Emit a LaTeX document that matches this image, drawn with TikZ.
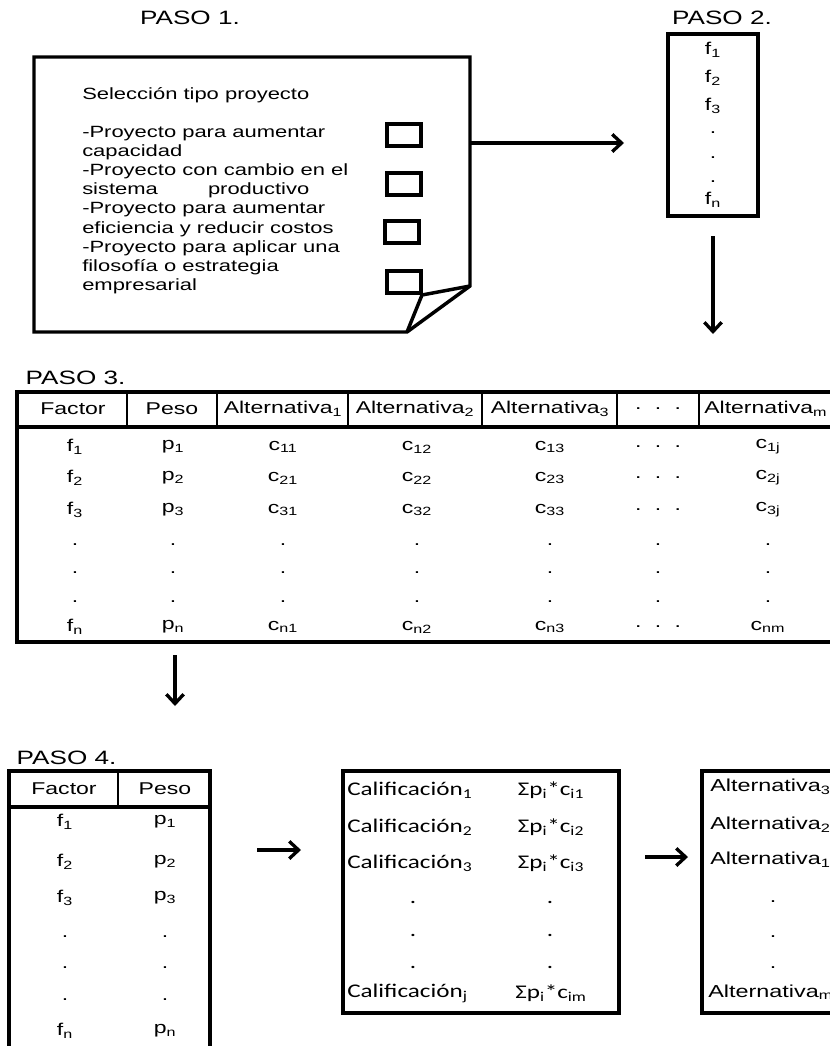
\documentclass[tikz,border=0pt]{standalone}
\usepackage{fontspec}
\setmainfont{Liberation Sans}[FakeStretch=1.35]
\newfontfamily\califont{Carlito}[FakeStretch=1.3]
\usetikzlibrary{arrows.meta, positioning}
\newcommand{\idx}[1]{\textsubscript{#1}}
\newcommand{\tdots}{.\hspace{10pt}.\hspace{10pt}.}

\begin{document}
\begin{tikzpicture}[
    x=0.75pt, y=-0.75pt,
    paso/.style={font=\fontsize{14.5}{17}\selectfont},
    txt/.style={font=\fontsize{12.2}{14.4}\selectfont, align=left, inner sep=0pt},
    cell/.style={font=\fontsize{12.8}{15}\selectfont, inner sep=0pt},
    calif/.style={font=\califont\fontsize{14.5}{17}\selectfont, inner sep=0pt},
    alt/.style={font=\fontsize{13}{16}\selectfont, inner sep=0pt},
    border/.style={draw, line width=2.9pt},
    sep/.style={line width=1.8pt},
    checkbox/.style={draw, line width=2.7pt, minimum width=25.5pt, minimum height=16.5pt, inner sep=0pt},
    arrow/.style={-{Straight Barb[length=7pt, width=13pt]}, line width=2.5pt},
]
\useasboundingbox (0,0) rectangle (830,1046);
\clip (0,0) rectangle (830,1046);

% Paso 1
\node[paso] (paso1) at (190,18) {PASO 1.};
\draw[line width=2.6pt, line join=miter] (34,57) -- (470,57) -- (470,286) -- (407,332) -- (34,332) -- cycle;
\draw[line width=2.6pt] (470,286) -- (422,295) -- (407,332);
\node[txt, anchor=west] (titulo) at (82,95) {Selección tipo proyecto};
\node[txt, anchor=west] (tipos) at (82,210) {-Proyecto para aumentar\\capacidad\\-Proyecto con cambio en el\\sistema\hspace{33pt} productivo\\-Proyecto para aumentar\\eficiencia y reducir costos\\-Proyecto para aplicar una\\filosofía o estrategia\\empresarial};
\node[checkbox] (cb1) at (404,135) {};
\node[checkbox] (cb2) at (404,184) {};
\node[checkbox] (cb3) at (402,232) {};
\node[checkbox] (cb4) at (404,282) {};

% Paso 2
\node[paso] (paso2) at (722,18) {PASO 2.};
\node[border, minimum width=67pt, minimum height=137pt] (lista) at (713,125) {};
\node[cell] (lf1) at (713,50) {f\idx{1}};
\node[cell] (lf2) at (713,78) {f\idx{2}};
\node[cell] (lf3) at (713,106) {f\idx{3}};
\node[cell] (ld1) at (713,133) {.};
\node[cell] (ld2) at (713,158) {.};
\node[cell] (ld3) at (713,182) {.};
\node[cell] (lfn) at (713,200) {f\idx{n}};

% Arrows between steps
\coordinate (a1s) at (470,143);
\coordinate (a1e) at (624,143);
\coordinate (a2s) at (713,236);
\coordinate (a2e) at (713,334);
\coordinate (a3s) at (175,655);
\coordinate (a3e) at (175,706);
\coordinate (a4s) at (257,850);
\coordinate (a4e) at (301,850);
\coordinate (a5s) at (645,857);
\coordinate (a5e) at (688,857);
\draw[arrow] (a1s) -- (a1e);
\draw[arrow] (a2s) -- (a2e);
\draw[arrow] (a3s) -- (a3e);
\draw[arrow] (a4s) -- (a4e);
\draw[arrow] (a5s) -- (a5e);

% Paso 3
\node[paso, anchor=west] (paso3) at (21,378) {PASO 3.};
\draw[border] (17,392) rectangle (880,642);
\draw[border] (17,427) -- (880,427);
\foreach \x in {127,217,348,482,617,699}
    \draw[sep] (\x,392) -- (\x,427);
\node[cell] (hfac) at (73,409) {Factor};
\node[cell] (hpes) at (172,409) {Peso};
\node[cell] (halt1) at (283,409) {Alternativa\idx{1}};
\node[cell] (halt2) at (415,409) {Alternativa\idx{2}};
\node[cell] (halt3) at (550,409) {Alternativa\idx{3}};
\node[cell] (hdots) at (658,409) {\tdots};
\node[cell, anchor=west] (haltm) at (704,409) {Alternativa\idx{m}};
\foreach \y/\r in {447/1, 478/2, 510/3} {
    \node[cell] (f\r) at (75,\y) {f\idx{\r}};
    \node[cell] (p\r) at (173,\y) {p\idx{\r}};
    \node[cell] (c\r1) at (283,\y) {c\idx{\r1}};
    \node[cell] (c\r2) at (417,\y) {c\idx{\r2}};
    \node[cell] (c\r3) at (550,\y) {c\idx{\r3}};
    \node[cell] (d\r) at (658,\y) {\tdots};
    \node[cell] (c\r j) at (768,\y) {c\idx{\r j}};
}
\foreach \y in {545,573,602}
    \foreach \x in {75,173,283,417,550,658,768}
        \node[cell] (pt-\x-\y) at (\x,\y) {.};
\node[cell] (fn) at (75,627) {f\idx{n}};
\node[cell] (pn) at (173,627) {p\idx{n}};
\node[cell] (cn1) at (283,627) {c\idx{n1}};
\node[cell] (cn2) at (417,627) {c\idx{n2}};
\node[cell] (cn3) at (550,627) {c\idx{n3}};
\node[cell] (dn) at (658,627) {\tdots};
\node[cell] (cnm) at (768,627) {c\idx{nm}};

% Paso 4
\node[paso, anchor=west] (paso4) at (12,758) {PASO 4.};
\draw[border] (9,1080) -- (9,771) -- (210,771) -- (210,1080);
\draw[border] (9,807) -- (210,807);
\draw[sep] (118,771) -- (118,807);
\node[cell] (gfac) at (64,789) {Factor};
\node[cell] (gpes) at (165,789) {Peso};
\foreach \y/\r in {822/1, 862/2, 898/3} {
    \node[cell] (g\r) at (65,\y) {f\idx{\r}};
    \node[cell] (q\r) at (165,\y) {p\idx{\r}};
}
\foreach \y in {937,968,1000} {
    \node[cell] (gd-\y) at (65,\y) {.};
    \node[cell] (qd-\y) at (165,\y) {.};
}
\node[cell] (gn) at (65,1031) {f\idx{n}};
\node[cell] (qn) at (165,1031) {p\idx{n}};

% Calificaciones
\draw[border] (343,771) rectangle (619,1013);
\foreach \y/\r in {790/1, 827/2, 863/3} {
    \node[calif, anchor=west] (cal\r) at (347,\y) {Calificación\idx{\r}};
    \node[calif] (sum\r) at (551,\y) {Σp\idx{i}*c\idx{i\r}};
}
\foreach \y in {902,935,967} {
    \node[calif] (cd-\y) at (413,\y) {.};
    \node[calif] (sd-\y) at (550,\y) {.};
}
\node[calif, anchor=west] (calj) at (347,993) {Calificación\idx{j}};
\node[calif] (summ) at (551,993) {Σp\idx{i}*c\idx{im}};

% Orden de alternativas
\draw[border] (702,771) rectangle (880,1013);
\node[alt, anchor=west] (ord1) at (710,787) {Alternativa\idx{3}};
\node[alt, anchor=west] (ord2) at (710,825) {Alternativa\idx{2}};
\node[alt, anchor=west] (ord3) at (710,860) {Alternativa\idx{1}};
\foreach \y in {902,937,968}
    \node[alt] (od-\y) at (773,\y) {.};
\node[alt, anchor=west] (ordm) at (708,992) {Alternativa\idx{m}};

\end{tikzpicture}
\end{document}
